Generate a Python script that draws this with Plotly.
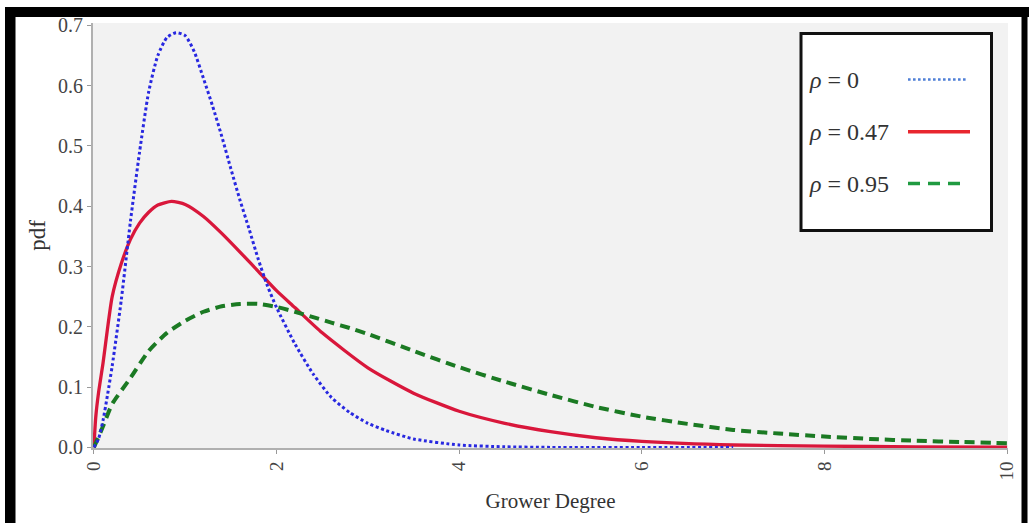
import plotly.graph_objects as go

# ---- data ----
x_rho0 = [0, 0.05, 0.1, 0.15, 0.2, 0.3, 0.4, 0.5, 0.6, 0.7, 0.8, 0.9, 1.0, 1.1, 1.2, 1.3, 1.4,
          1.5, 1.6, 1.7, 1.8, 1.9, 2.0, 2.2, 2.4, 2.6, 2.8, 3.0, 3.2, 3.5, 4.0, 4.5, 5.0, 6.0, 7.0]
y_rho0 = [0, 0.014, 0.045, 0.088, 0.135, 0.245, 0.375, 0.49, 0.59, 0.65, 0.68, 0.688, 0.683,
          0.656, 0.612, 0.566, 0.516, 0.462, 0.41, 0.362, 0.312, 0.268, 0.232, 0.172, 0.122,
          0.083, 0.058, 0.04, 0.028, 0.014, 0.004, 0.001, 0, 0, 0]

x_rho047 = [0, 0.02, 0.05, 0.1, 0.2, 0.3, 0.4, 0.5, 0.6, 0.7, 0.85, 1.0, 1.2, 1.4, 1.6, 1.8,
            2.0, 2.2, 2.5, 3.0, 3.5, 4.0, 4.5, 5.0, 5.5, 6.0, 7.0, 8.0, 9.0, 10.0]
y_rho047 = [0, 0.05, 0.09, 0.14, 0.25, 0.305, 0.345, 0.372, 0.39, 0.402, 0.408, 0.403, 0.383,
            0.355, 0.324, 0.292, 0.26, 0.232, 0.19, 0.132, 0.09, 0.06, 0.04, 0.026, 0.016,
            0.01, 0.004, 0.002, 0.001, 0.0005]

x_rho095 = [0, 0.1, 0.2, 0.4, 0.6, 0.8, 1.0, 1.2, 1.4, 1.6, 1.8, 2.0, 2.2, 2.4, 2.6, 2.8, 3.0,
            3.5, 4.0, 4.5, 5.0, 5.5, 6.0, 6.5, 7.0, 7.5, 8.0, 8.5, 9.0, 9.5, 10.0]
y_rho095 = [0, 0.035, 0.072, 0.115, 0.16, 0.19, 0.21, 0.225, 0.234, 0.238, 0.238, 0.233, 0.225,
            0.216, 0.207, 0.198, 0.188, 0.16, 0.133, 0.109, 0.087, 0.067, 0.051, 0.039, 0.029,
            0.023, 0.018, 0.014, 0.011, 0.009, 0.007]

legend_labels = ["<i>ρ</i> = 0", "<i>ρ</i> = 0.47", "<i>ρ</i> = 0.95"]
y_ticks = [0.0, 0.1, 0.2, 0.3, 0.4, 0.5, 0.6, 0.7]
x_ticks = [0, 2, 4, 6, 8, 10]

BLUE = "#2828e0"
RED = "#d9173b"
GREEN = "#1b7a23"

fig = go.Figure()
fig.add_trace(go.Scatter(x=x_rho047, y=y_rho047, mode="lines", name=legend_labels[1],
                         line=dict(color=RED, width=3.3, shape="spline", smoothing=0.6)))
fig.add_trace(go.Scatter(x=x_rho095, y=y_rho095, mode="lines", name=legend_labels[2],
                         line=dict(color=GREEN, width=4, dash="10px,6px", shape="spline", smoothing=0.6)))
fig.add_trace(go.Scatter(x=x_rho0, y=y_rho0, mode="lines", name=legend_labels[0],
                         line=dict(color=BLUE, width=3, dash="3px,2.6px", shape="spline", smoothing=0.6)))

# plot area in pixels
L, R, T, B = 93, 1008, 23, 448
W, H = 1029, 523


def xp(px):
    return (px - L) / (R - L)


def yp(py):
    return (B - py) / (B - T)


shapes = []
# black picture frame
for (x0, y0, x1, y1) in [(5, 7, 15.5, 523), (5, 7, 1029, 17), (1021.5, 7, 1027.5, 523)]:
    shapes.append(dict(type="rect", xref="paper", yref="paper", x0=xp(x0), x1=xp(x1),
                       y0=yp(y1), y1=yp(y0), fillcolor="black", line=dict(width=0), layer="above"))
# legend box
shapes.append(dict(type="rect", xref="paper", yref="paper", x0=xp(801), x1=xp(991.5),
                   y0=yp(230.5), y1=yp(33.5), fillcolor="white",
                   line=dict(color="#111111", width=3), layer="above"))
# legend samples
samples = [(79.5, "#4f7fd6", 2.6, "2.6px,2.4px", 968),
           (131.7, "#e8262e", 3.5, "solid", 970),
           (183.5, "#1f9a40", 3.5, "12px,8px", 966)]
annotations = []
for (py, col, w, d, xe), lab in zip(samples, legend_labels):
    shapes.append(dict(type="line", xref="paper", yref="paper", x0=xp(908), x1=xp(xe),
                       y0=yp(py), y1=yp(py), line=dict(color=col, width=w, dash=d), layer="above"))
    annotations.append(dict(xref="paper", yref="paper", x=xp(807), y=yp(py), xanchor="left",
                            yanchor="middle", showarrow=False, text=lab,
                            font=dict(family="Liberation Serif", size=24, color="#333333")))

fig.update_layout(
    width=W, height=H,
    margin=dict(l=L, r=W - R, t=T, b=H - B, pad=0),
    paper_bgcolor="white",
    plot_bgcolor="#f2f2f2",
    showlegend=False,
    shapes=shapes,
    annotations=annotations,
    font=dict(family="Liberation Serif", color="#555555"),
)
fig.update_xaxes(range=[-0.01, 10.01], tickvals=x_ticks, ticktext=[str(v) for v in x_ticks],
                 tickangle=-90, showgrid=False, zeroline=False, showline=True,
                 linecolor="#b0b0b0", linewidth=2, ticks="outside", ticklen=4, tickcolor="#999999",
                 tickfont=dict(family="Liberation Serif", size=19, color="#444444"),
                 title=dict(text="Grower Degree", standoff=14,
                            font=dict(family="Liberation Serif", size=21, color="#333333")))
fig.update_yaxes(range=[-0.001, 0.704], tickvals=y_ticks, ticktext=[f"{v:.1f}" for v in y_ticks],
                 showgrid=False, zeroline=False, showline=True,
                 linecolor="#b0b0b0", linewidth=2, ticks="outside", ticklen=4, tickcolor="#999999",
                 tickfont=dict(family="Liberation Serif", size=20, color="#444444"),
                 title=dict(text="pdf", standoff=6,
                            font=dict(family="Liberation Serif", size=23, color="#333333")))

fig.write_html("out.html")
